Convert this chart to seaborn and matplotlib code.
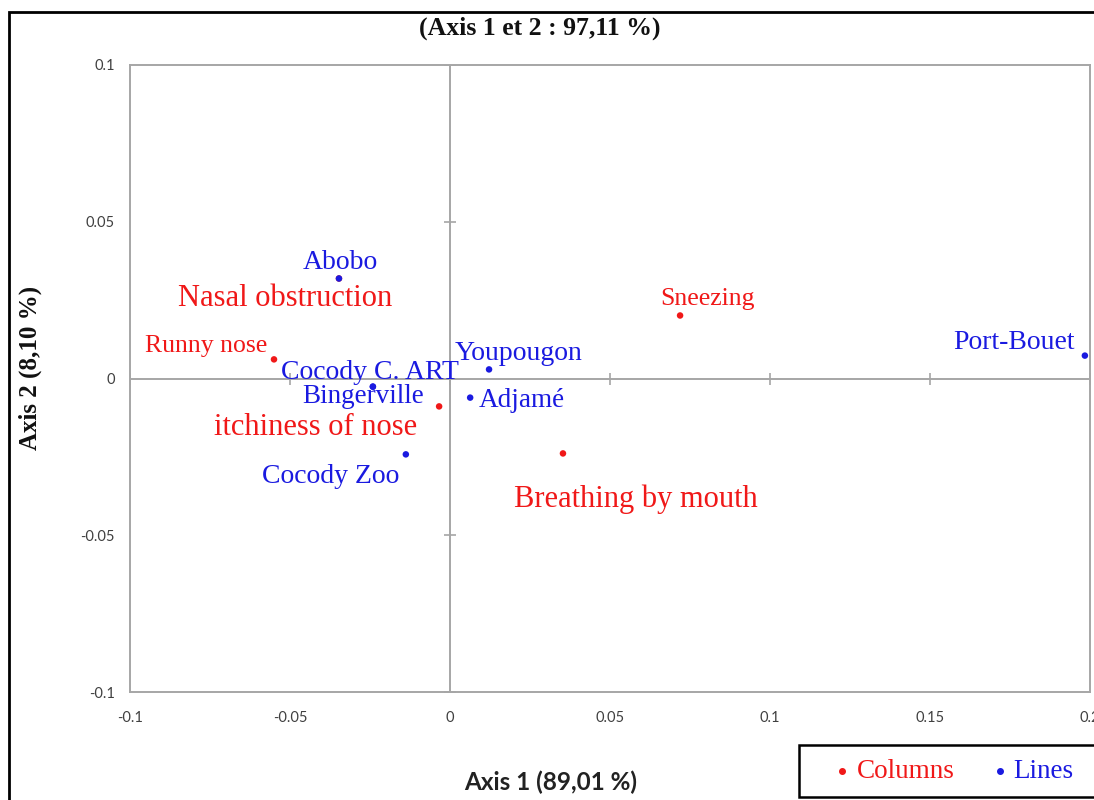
import matplotlib
matplotlib.use("Agg")
import matplotlib.pyplot as plt
import seaborn as sns
import numpy as np
import pandas as pd
from matplotlib.lines import Line2D
from matplotlib.patches import Rectangle

# ---- data ----
col_names = ["Nasal obstruction", "Runny nose", "itchiness of nose", "Sneezing", "Breathing by mouth"]
col_x = [-0.0347, -0.0550, -0.0034, 0.0719, 0.0353]
col_y = [0.0319, 0.0061, -0.0089, 0.0201, -0.0239]

line_names = ["Abobo", "Cocody C. ART", "Bingerville", "Youpougon", "Adjamé", "Cocody Zoo", "Port-Bouet"]
line_x = [-0.0347, -0.0241, -0.0241, 0.0122, 0.0063, -0.0138, 0.1984]
line_y = [0.0319, -0.0026, -0.0026, 0.0029, -0.0061, -0.0242, 0.0073]

x_ticks = [-0.1, -0.05, 0, 0.05, 0.1, 0.15, 0.2]
y_ticks = [-0.1, -0.05, 0, 0.05, 0.1]
x_ticklabels = ["-0.1", "-0.05", "0", "0.05", "0.1", "0.15", "0.2"]
y_ticklabels = ["-0.1", "-0.05", "0", "0.05", "0.1"]

title = "(Axis 1 et 2 : 97,11 %)"
xlabel = "Axis 1 (89,01 %)"
ylabel = "Axis 2 (8,10 %)"
group_names = ["Columns", "Lines"]

# ---- styling / layout ----
RED = "#f01818"
BLUE = "#1a1ae0"
GRAY = "#a6a6a6"
SERIF = ["Liberation Serif", "DejaVu Serif"]
SANS = ["Lato", "DejaVu Sans"]

# label layout: (ha, dx_px, dy_px, fontsize)
col_layout = {
    "Nasal obstruction": ("center", -54, -28, 22),
    "Runny nose": ("right", -7, 7, 18.5),
    "itchiness of nose": ("right", -22, -29, 22),
    "Sneezing": ("center", 27, 10, 18.5),
    "Breathing by mouth": ("center", 73, -54, 22),
}
line_layout = {
    "Abobo": ("center", 1, 9, 20),
    "Cocody C. ART": ("center", -3, 8, 20),
    "Bingerville": ("center", -10, -16, 19.5),
    "Youpougon": ("center", 30, 9, 20),
    "Adjamé": ("left", 9, -9, 19.5),
    "Cocody Zoo": ("right", -6, -29, 20),
    "Port-Bouet": ("right", -10, 7, 20),
}

sns.set_style("white")
plt.rcParams["font.family"] = SANS

df = pd.concat([
    pd.DataFrame({"name": col_names, "x": col_x, "y": col_y, "group": group_names[0]}),
    pd.DataFrame({"name": line_names, "x": line_x, "y": line_y, "group": group_names[1]}),
], ignore_index=True)

fig = plt.figure(figsize=(10.94, 8.0), dpi=100)
ax = fig.add_axes([130 / 1094, 1 - 692 / 800, (1090 - 130) / 1094, (692 - 65) / 800])

ax.set_xlim(-0.1, 0.2)
ax.set_ylim(-0.1, 0.1)

# zero lines with crossing ticks
ax.axhline(0, color=GRAY, lw=1.4, zorder=1)
ax.axvline(0, color=GRAY, lw=1.4, zorder=1)
ax.plot(x_ticks, [0] * len(x_ticks), ls="none", marker="|", ms=8, mew=1.2, color=GRAY, zorder=1)
ax.plot([0] * len(y_ticks), y_ticks, ls="none", marker="_", ms=8, mew=1.2, color=GRAY, zorder=1)

sns.scatterplot(data=df, x="x", y="y", hue="group",
                palette={group_names[0]: RED, group_names[1]: BLUE},
                s=22, linewidth=0, legend=False, ax=ax, zorder=3)

for nm, xx, yy in zip(col_names, col_x, col_y):
    ha, dx, dy, fs = col_layout[nm]
    ax.annotate(nm, (xx, yy), xytext=(dx, dy), textcoords="offset pixels",
                ha=ha, va="baseline", color=RED, fontsize=fs, family=SERIF, zorder=4)
for nm, xx, yy in zip(line_names, line_x, line_y):
    ha, dx, dy, fs = line_layout[nm]
    ax.annotate(nm, (xx, yy), xytext=(dx, dy), textcoords="offset pixels",
                ha=ha, va="baseline", color=BLUE, fontsize=fs, family=SERIF, zorder=4)

ax.set_xticks(x_ticks)
ax.set_xticklabels(x_ticklabels)
ax.set_yticks(y_ticks)
ax.set_yticklabels(y_ticklabels)
ax.tick_params(axis="both", length=0, labelsize=10.5, labelcolor="#404040")
ax.tick_params(axis="x", pad=14)
ax.tick_params(axis="y", pad=11)
ax.set_xlabel("")
ax.set_ylabel("")
for sp in ax.spines.values():
    sp.set_color(GRAY)
    sp.set_linewidth(1.4)
    sp.set_visible(True)

fig.text(540 / 1094, 1 - 28 / 800, title, ha="center", va="center",
         fontsize=18.5, fontweight="bold", family=SERIF, color="#111111")
fig.text(30 / 1094, 1 - 368 / 800, ylabel, ha="center", va="center", rotation=90,
         fontsize=18, fontweight="bold", family=SERIF, color="#111111")
fig.text(551 / 1094, 1 - 782 / 800, xlabel, ha="center", va="center",
         fontsize=17.5, fontweight="bold", family=SANS, color="#222222")

# outer frame
fig.patches.append(Rectangle((9 / 1094, -0.05), 1.2, 1 - 12 / 800 + 0.05,
                             transform=fig.transFigure, fill=False,
                             edgecolor="black", lw=2))

# legend box (extends past the right edge as in the reference)
fig.patches.append(Rectangle((799 / 1094, 1 - 797 / 800), 0.5, 52 / 800,
                             transform=fig.transFigure, facecolor="white",
                             edgecolor="black", lw=1.8, zorder=5))
for name, color, dot_px, txt_px in zip(group_names, [RED, BLUE], [842, 1000], [857, 1013]):
    fig.add_artist(Line2D([dot_px / 1094], [1 - 771 / 800], ls="none", marker="o",
                          ms=4, color=color, transform=fig.transFigure, zorder=6))
    fig.text(txt_px / 1094, 1 - 771 / 800, name, ha="left", va="center",
             fontsize=19.5, family=SERIF, color=color, zorder=6)

fig.savefig("out.png", dpi=100)
